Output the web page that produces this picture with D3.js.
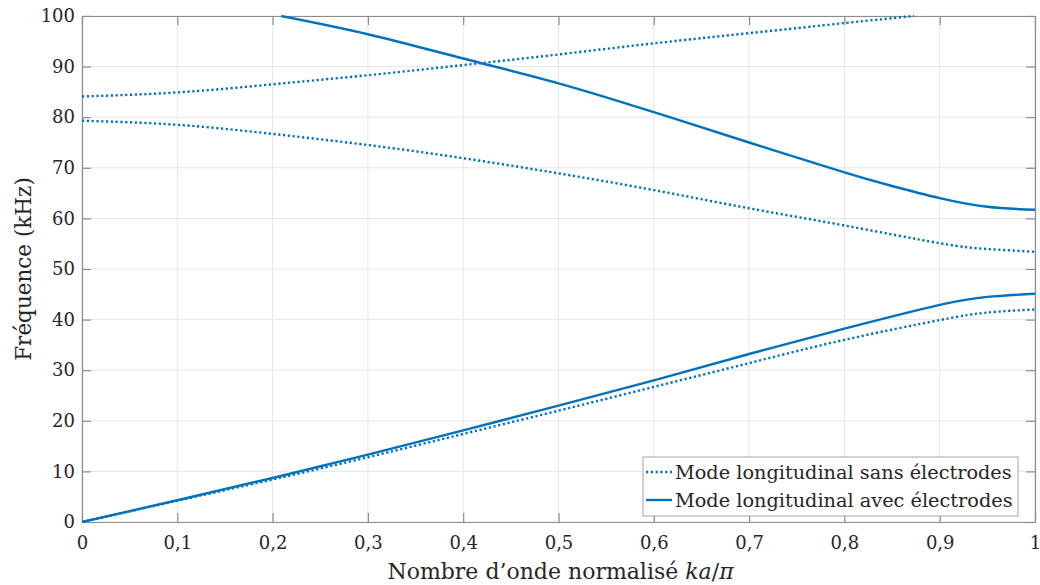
<!DOCTYPE html>
<html><head><meta charset="utf-8">
<script src="https://cdn.jsdelivr.net/npm/d3@7"></script>
<style>
html,body{margin:0;padding:0;background:#fff;}
svg{display:block;}
text{font-family:'DejaVu Serif',serif;}
</style></head>
<body><svg id="c" width="1040" height="585"></svg>
<script>
// ---- data ----
const xTicks = [0,0.1,0.2,0.3,0.4,0.5,0.6,0.7,0.8,0.9,1];
const xTickLabels = ["0","0,1","0,2","0,3","0,4","0,5","0,6","0,7","0,8","0,9","1"];
const yTicks = [0,10,20,30,40,50,60,70,80,90,100];

const kLow = [0,0.1,0.2,0.3,0.4,0.5,0.6,0.7,0.8,0.9,0.95,1];
const sansBand1 = [0,4.2,8.4,12.8,17.4,22.0,26.7,31.4,36.0,39.9,41.4,42.0];
const avecBand1 = [0,4.3,8.7,13.3,18.1,23.0,28.0,33.2,38.2,42.9,44.5,45.1];
const sansBand2 = [79.3,78.5,76.7,74.5,71.9,68.9,65.6,62.0,58.6,55.1,53.95,53.4];
const kSans3 = [0,0.1,0.2,0.3,0.4,0.5,0.6,0.7,0.8,0.873];
const sansBand3 = [84.1,84.9,86.5,88.3,90.3,92.4,94.6,96.6,98.6,100];
const kAvec2 = [0.209,0.3,0.4,0.5,0.6,0.7,0.8,0.85,0.9,0.95,1];
const avecBand2 = [100,96.4,91.6,86.7,81.0,75.0,69.1,66.4,64.0,62.3,61.7];
const legendLabels = ["Mode longitudinal sans électrodes","Mode longitudinal avec électrodes"];

// ---- layout ----
const L=82,R=1035,T=16,B=522;
const color="#0072BD";
const FONT="'DejaVu Serif',serif";
const svg=d3.select("#c");
const x=d3.scaleLinear().domain([0,1]).range([L,R]);
const y=d3.scaleLinear().domain([0,100]).range([B,T]);

// grid
const g=svg.append("g");
g.selectAll(".gx").data(xTicks).join("line")
 .attr("x1",d=>x(d)).attr("x2",d=>x(d)).attr("y1",T).attr("y2",B)
 .attr("stroke","#e6e6e6").attr("stroke-width",1);
g.selectAll(".gy").data(yTicks).join("line")
 .attr("y1",d=>y(d)).attr("y2",d=>y(d)).attr("x1",L).attr("x2",R)
 .attr("stroke","#e6e6e6").attr("stroke-width",1);

// axes (ticks inward, all sides)
const tickLen=9;
const axB=d3.axisBottom(x).tickValues(xTicks).tickFormat((d,i)=>xTickLabels[i]).tickSizeInner(-tickLen).tickSizeOuter(0).tickPadding(14);
const axL=d3.axisLeft(y).tickValues(yTicks).tickFormat(d=>d).tickSizeInner(-tickLen).tickSizeOuter(0).tickPadding(7);
const axT=d3.axisTop(x).tickValues(xTicks).tickFormat("").tickSizeInner(-tickLen).tickSizeOuter(0);
const axR=d3.axisRight(y).tickValues(yTicks).tickFormat("").tickSizeInner(-tickLen).tickSizeOuter(0);
function style(sel){
  sel.attr("font-family",FONT);
  sel.select(".domain").attr("stroke","#8c8c8c").attr("stroke-width",1.2);
  sel.selectAll(".tick line").attr("stroke","#8c8c8c").attr("stroke-width",1.2);
  sel.selectAll(".tick text").attr("fill","#262626").attr("font-size",18)
    .style("font-family",FONT);
}
svg.append("g").attr("transform",`translate(0,${B})`).call(axB).call(style);
svg.append("g").attr("transform",`translate(${L},0)`).call(axL).call(style);
svg.append("g").attr("transform",`translate(0,${T})`).call(axT).call(style);
svg.append("g").attr("transform",`translate(${R},0)`).call(axR).call(style);

// lines
const line=d3.line().x(d=>x(d[0])).y(d=>y(d[1])).curve(d3.curveNatural);
const zip=(a,b)=>a.map((v,i)=>[v,b[i]]);
const dotted="2.2,2.6";
svg.append("defs").append("clipPath").attr("id","pc").append("rect")
 .attr("x",L).attr("y",T-1).attr("width",R-L+2).attr("height",B-T+2);
const lg=svg.append("g").attr("clip-path","url(#pc)");
[[kLow,sansBand1,true],[kLow,sansBand2,true],[kSans3,sansBand3,true],
 [kLow,avecBand1,false],[kAvec2,avecBand2,false]].forEach(([kx,vy,dot])=>{
  lg.append("path").attr("d",line(zip(kx,vy))).attr("fill","none")
   .attr("stroke",color).attr("stroke-width",2.4)
   .attr("stroke-dasharray",dot?dotted:null);
});

// labels
svg.append("text").attr("x",(L+R)/2+2).attr("y",579).attr("text-anchor","middle")
 .attr("font-size",22).attr("fill","#262626").style("font-family",FONT)
 .call(t=>{t.append("tspan").text("Nombre d’onde normalisé ");
   t.append("tspan").attr("font-style","italic").text("ka");
   t.append("tspan").text("/");
   t.append("tspan").attr("font-style","italic").text("π");});
svg.append("text").attr("transform",`translate(31,${(T+B)/2}) rotate(-90)`)
 .attr("text-anchor","middle").attr("font-size",21.5).attr("fill","#262626").style("font-family",FONT)
 .text("Fréquence (kHz)");

// legend
const lgx=643, lgy=457, lgw=375, lgh=59;
const leg=svg.append("g");
leg.append("rect").attr("x",lgx).attr("y",lgy).attr("width",lgw).attr("height",lgh)
 .attr("fill","#fff").attr("stroke","#a6a6a6").attr("stroke-width",1);
legendLabels.forEach((lab,i)=>{
  const cy=lgy+15+i*28;
  leg.append("line").attr("x1",lgx+3).attr("x2",lgx+29).attr("y1",cy).attr("y2",cy)
   .attr("stroke",color).attr("stroke-width",2.4).attr("stroke-dasharray",i===0?dotted:null);
  leg.append("text").attr("x",lgx+32).attr("y",cy+7).attr("font-size",19.3).attr("fill","#262626")
   .style("font-family",FONT).text(lab);
});
</script></body></html>
